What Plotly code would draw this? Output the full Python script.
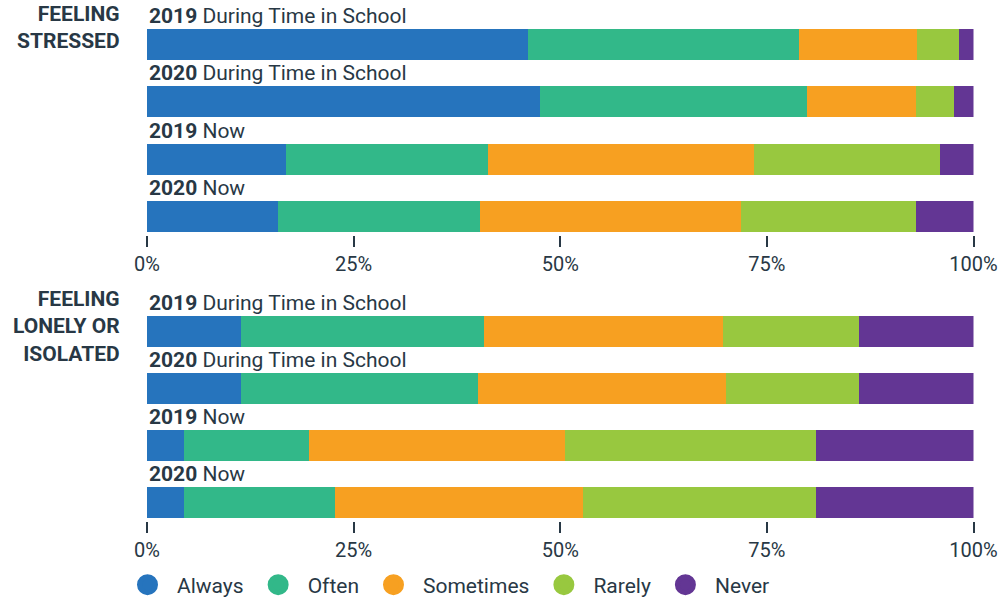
import plotly.graph_objects as go

# ---------------- data ----------------
responses = ["Always", "Often", "Sometimes", "Rarely", "Never"]
colors = ["#2674BD", "#32B889", "#F7A021", "#98C83F", "#633694"]

years = ["2019", "2020", "2019", "2020"]
periods = ["During Time in School", "During Time in School", "Now", "Now"]

group_titles = ["FEELING<br>STRESSED", "FEELING<br>LONELY OR<br>ISOLATED"]

# rows: Always, Often, Sometimes, Rarely, Never ; columns follow years/periods order
stressed = {
    "Always":    [46.1, 47.5, 16.8, 15.9],
    "Often":     [32.8, 32.3, 24.4, 24.4],
    "Sometimes": [14.3, 13.3, 32.2, 31.6],
    "Rarely":    [5.0, 4.5, 22.6, 21.2],
    "Never":     [1.8, 2.4, 4.0, 6.9],
}
lonely = {
    "Always":    [11.4, 11.4, 4.5, 4.5],
    "Often":     [29.4, 28.7, 15.1, 18.3],
    "Sometimes": [28.9, 29.9, 31.0, 30.0],
    "Rarely":    [16.5, 16.1, 30.3, 28.2],
    "Never":     [13.8, 13.9, 19.1, 19.0],
}

tick_vals = [0, 25, 50, 75, 100]
tick_text = ["0%", "25%", "50%", "75%", "100%"]

# ---------------- figure ----------------
W, H = 998, 602
TXT = "#283845"
FONT = "Roboto"

fig = go.Figure()
rows = list(range(len(years)))

for gi, (data, xa, ya) in enumerate([(stressed, "x", "y"), (lonely, "x2", "y2")]):
    for r, c in zip(responses, colors):
        fig.add_trace(go.Bar(
            x=data[r], y=rows, orientation="h", width=0.54,
            marker=dict(color=c, line=dict(width=0)),
            xaxis=xa, yaxis=ya, showlegend=False, name=r,
            hoverinfo="x+name",
        ))

# legend entries with large circle markers
for r, c in zip(responses, colors):
    fig.add_trace(go.Scatter(
        x=[None], y=[None], mode="markers", name=r,
        marker=dict(symbol="circle", size=16, color=c, line=dict(width=5, color=c)),
        xaxis="x", yaxis="y", showlegend=True,
    ))

annotations = []
for ya in ["y", "y2"]:
    xr = "x" if ya == "y" else "x2"
    for i, (yr, p) in enumerate(zip(years, periods)):
        annotations.append(dict(
            x=0, y=i - 0.5, xref=xr, yref=ya,
            text=f"<b>{yr}</b> {p}", showarrow=False,
            xanchor="left", yanchor="middle",
            font=dict(family=FONT, size=21, color=TXT),
        ))

annotations.append(dict(
    x=122 / W, y=1 - 28 / H, xref="paper", yref="paper",
    text=f"<b>{group_titles[0]}</b>", showarrow=False, align="right",
    xanchor="right", yanchor="middle",
    font=dict(family=FONT, size=21, color=TXT),
))
annotations.append(dict(
    x=122 / W, y=1 - 326 / H, xref="paper", yref="paper",
    text=f"<b>{group_titles[1]}</b>", showarrow=False, align="right",
    xanchor="right", yanchor="middle",
    font=dict(family=FONT, size=21, color=TXT),
))

xdom = [147 / W, 973.5 / W]
xaxis_common = dict(
    range=[0, 100], tickvals=tick_vals, ticktext=tick_text, domain=xdom,
    showgrid=False, zeroline=False, showline=False, automargin=False,
    ticks="outside", ticklen=11, tickwidth=2, tickcolor=TXT,
    tickfont=dict(family=FONT, size=20, color=TXT),
    fixedrange=True,
)
yaxis_common = dict(
    range=[3.323, -0.5], showgrid=False, zeroline=False, showline=False,
    showticklabels=False, ticks="", fixedrange=True, automargin=False,
)

fig.update_layout(
    width=W, height=H,
    margin=dict(l=0, r=0, t=0, b=0, autoexpand=False),
    paper_bgcolor="white", plot_bgcolor="white",
    barmode="stack", bargap=0,
    xaxis=dict(**xaxis_common, anchor="y"),
    xaxis2=dict(**xaxis_common, anchor="y2"),
    yaxis=dict(**yaxis_common, domain=[1 - 235 / H, 1 - 16 / H], anchor="x"),
    yaxis2=dict(**yaxis_common, domain=[1 - 521 / H, 1 - 303 / H], anchor="x2"),
    annotations=annotations,
    showlegend=True,
    legend=dict(
        orientation="h", x=(147 - 29) / W, xanchor="left",
        y=1 - 585 / H, yanchor="middle", itemwidth=49,
        font=dict(family=FONT, size=21, color=TXT),
        bgcolor="rgba(0,0,0,0)", itemsizing="trace",
        traceorder="normal",
    ),
    font=dict(family=FONT, color=TXT),
)

fig.write_html("out.html", config={"displayModeBar": False},
               post_script="document.body.style.margin='0px';")
